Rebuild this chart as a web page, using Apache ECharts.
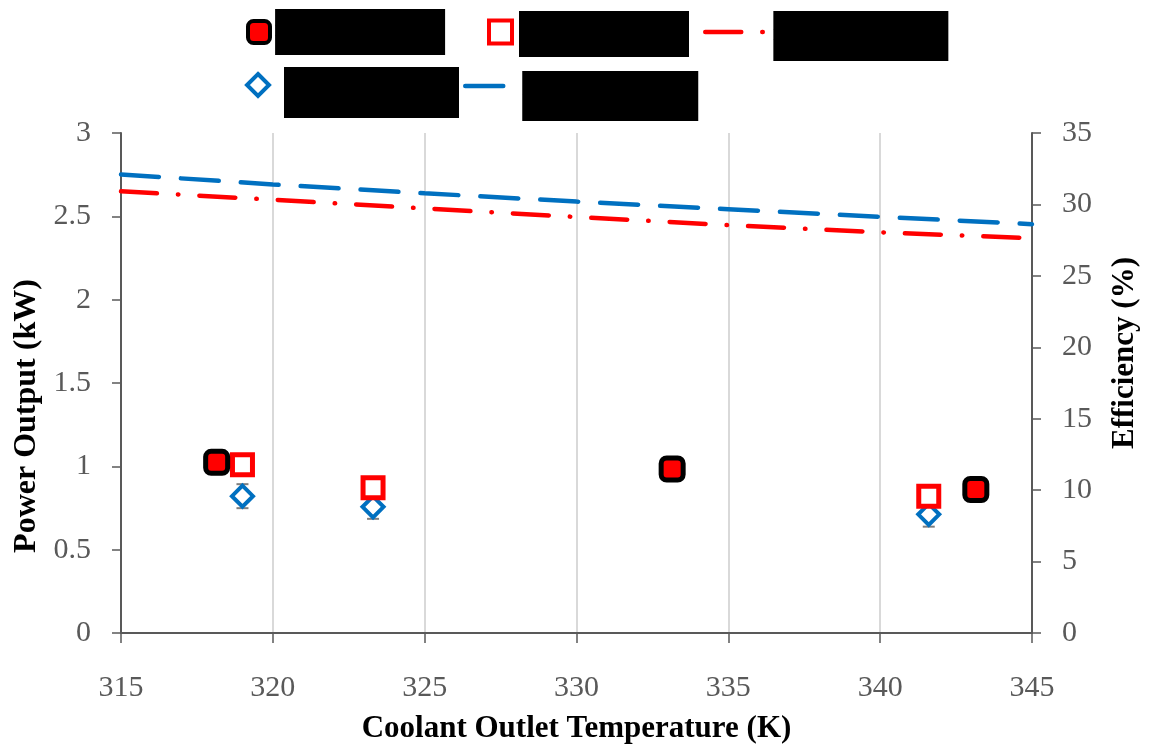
<!DOCTYPE html>
<html>
<head>
<meta charset="utf-8">
<script src="https://cdn.jsdelivr.net/npm/echarts@6/dist/echarts.min.js"></script>
<style>
html,body{margin:0;padding:0;background:#fff;}
#chart{width:1149px;height:749px;}
</style>
</head>
<body>
<div id="chart"></div>
<script>
// ---- data ----
var seriesNames = ['Measured Power A', 'Measured Power B', 'Model Efficiency', 'Measured Efficiency', 'Carnot-based Efficiency'];
var tempsA = [318.15, 333.15, 343.15];
var powerA = [1.024, 0.984, 0.861];
var tempsB = [319.0, 323.3, 341.6];
var powerB = [1.010, 0.871, 0.821];
var diamondVals = [0.821, 0.757, 0.712];
var diamondErr = [0.072, 0.072, 0.074];
var lineTemps = [315, 320, 325, 330, 335, 340, 345];
var redEff = [30.92, 30.33, 29.72, 29.12, 28.55, 28.05, 27.63];
var blueEff = [32.10, 31.40, 30.78, 30.20, 29.66, 29.13, 28.62];
var xTitle = 'Coolant Outlet Temperature (K)';
var yLeftTitle = 'Power Output (kW)';
var yRightTitle = 'Efficiency (%)';

function pairs(xs, ys){ return xs.map(function(x,i){ return [x, ys[i]]; }); }
var errData = tempsB.map(function(x,i){ return [x, diamondVals[i]-diamondErr[i], diamondVals[i]+diamondErr[i]]; });

var RED = '#ff0000', BLUE = '#0070c0', GREY = '#595959';
var SERIF = '"Liberation Serif", "DejaVu Serif", serif';
var RED_DASH = [36, 21, 0.5, 21], BLUE_DASH = [38, 22];

function legendBox(opts){
  var l = {
    data: [opts.name],
    left: opts.left, top: opts.top,
    orient: 'horizontal',
    padding: 0,
    selectedMode: false,
    itemWidth: opts.iw, itemHeight: opts.ih,
    formatter: function(n){ return '{s|\u00a0}{b|' + n + '}'; },
    textStyle: {
      color: '#000',
      fontFamily: SERIF,
      fontSize: 16,
      rich: {
        s: { width: opts.sw, height: opts.sh, fontSize: 4 },
        b: { width: opts.bw, height: opts.bh, backgroundColor: '#000', color: '#000', verticalAlign: 'bottom', align: 'left' }
      }
    }
  };
  if (opts.itemStyle) l.itemStyle = opts.itemStyle;
  if (opts.lineStyle) l.lineStyle = opts.lineStyle;
  if (opts.icon) l.icon = opts.icon;
  return l;
}

var chart = echarts.init(document.getElementById('chart'), null, {renderer: 'canvas'});
chart.setOption({
  animation: false,
  backgroundColor: '#fff',
  grid: { left: 121, right: 117, top: 133, bottom: 113, containLabel: false },
  legend: [
    legendBox({name: seriesNames[0], left: 246, top: 9,  iw: 22, ih: 22, sw: 0.1, sh: 46, bw: 170, bh: 46,
      icon: 'roundRect', itemStyle: { color: RED, borderColor: '#000', borderWidth: 4 }}),
    legendBox({name: seriesNames[1], left: 487, top: 11, iw: 23, ih: 23, sw: 2,  sh: 50, bw: 170, bh: 46,
      icon: 'rect', itemStyle: { color: '#fff', borderColor: RED, borderWidth: 4 }}),
    legendBox({name: seriesNames[2], left: 703, top: 11, iw: 63, ih: 14, sw: 0.1, sh: 58, bw: 175, bh: 50,
      itemStyle: { color: 'rgba(0,0,0,0)', borderWidth: 0, opacity: 0 },
      lineStyle: { color: RED, width: 4.5, type: RED_DASH, cap: 'round' }}),
    legendBox({name: seriesNames[3], left: 245, top: 67, iw: 22, ih: 22, sw: 10, sh: 66, bw: 175, bh: 51,
      icon: 'diamond', itemStyle: { color: '#fff', borderColor: BLUE, borderWidth: 4 }}),
    legendBox({name: seriesNames[4], left: 463, top: 71, iw: 42, ih: 14, sw: 10, sh: 70, bw: 176, bh: 50,
      itemStyle: { color: 'rgba(0,0,0,0)', borderWidth: 0, opacity: 0 },
      lineStyle: { color: BLUE, width: 4.5, type: BLUE_DASH, cap: 'round' }})
  ],
  xAxis: {
    type: 'value', min: 315, max: 345, interval: 5,
    name: xTitle, nameLocation: 'middle', nameGap: 80,
    nameTextStyle: { fontFamily: SERIF, fontWeight: 'bold', fontSize: 31, color: '#000' },
    axisLine: { show: true, lineStyle: { color: GREY, width: 2 } },
    axisTick: { show: true, length: 10, lineStyle: { color: GREY, width: 1.5 } },
    axisLabel: { margin: 40, fontFamily: SERIF, fontSize: 30, color: GREY },
    splitLine: { show: true, lineStyle: { color: '#d9d9d9', width: 2 } }
  },
  yAxis: [
    {
      type: 'value', min: 0, max: 3, interval: 0.5, position: 'left',
      name: yLeftTitle, nameLocation: 'middle', nameGap: 77, nameRotate: 90,
      nameTextStyle: { fontFamily: SERIF, fontWeight: 'bold', fontSize: 32, color: '#000', padding: [0, 66, 0, 0] },
      axisLine: { show: true, lineStyle: { color: GREY, width: 2 } },
      axisTick: { show: true, length: 9, lineStyle: { color: GREY, width: 1.5 } },
      axisLabel: { margin: 30, fontFamily: SERIF, fontSize: 30, color: GREY },
      splitLine: { show: false }
    },
    {
      type: 'value', min: 0, max: 35, interval: 5, position: 'right',
      name: yRightTitle, nameLocation: 'middle', nameGap: 77, nameRotate: 90,
      nameTextStyle: { fontFamily: SERIF, fontWeight: 'bold', fontSize: 31, color: '#000', padding: [0, 0, 0, 60] },
      axisLine: { show: true, lineStyle: { color: GREY, width: 2 } },
      axisTick: { show: true, length: 9, lineStyle: { color: GREY, width: 1.5 } },
      axisLabel: { margin: 30, fontFamily: SERIF, fontSize: 30, color: GREY },
      splitLine: { show: false }
    }
  ],
  series: [
    {
      name: seriesNames[2], type: 'line', yAxisIndex: 1,
      data: pairs(lineTemps, redEff), symbol: 'none', showSymbol: false, z: 3,
      lineStyle: { color: RED, width: 4.5, type: RED_DASH, cap: 'round' },
      itemStyle: { color: RED }
    },
    {
      name: seriesNames[4], type: 'line', yAxisIndex: 1,
      data: pairs(lineTemps, blueEff), symbol: 'none', showSymbol: false, z: 3,
      lineStyle: { color: BLUE, width: 4.5, type: BLUE_DASH, cap: 'round' },
      itemStyle: { color: BLUE }
    },
    {
      name: 'error', type: 'custom', yAxisIndex: 0, z: 2,
      data: errData,
      renderItem: function(params, api){
        var x = api.value(0);
        var lo = api.coord([x, api.value(1)]);
        var hi = api.coord([x, api.value(2)]);
        var hw = 6;
        var st = { stroke: '#7f7f7f', lineWidth: 2 };
        return { type: 'group', children: [
          { type: 'line', shape: { x1: lo[0], y1: lo[1], x2: hi[0], y2: hi[1] }, style: st },
          { type: 'line', shape: { x1: lo[0]-hw, y1: lo[1], x2: lo[0]+hw, y2: lo[1] }, style: st },
          { type: 'line', shape: { x1: hi[0]-hw, y1: hi[1], x2: hi[0]+hw, y2: hi[1] }, style: st }
        ]};
      }
    },
    {
      name: seriesNames[3], type: 'scatter', yAxisIndex: 0, z: 4,
      data: pairs(tempsB, diamondVals), symbol: 'diamond', symbolSize: 21,
      itemStyle: { color: '#fff', borderColor: BLUE, borderWidth: 4, opacity: 1 }
    },
    {
      name: seriesNames[1], type: 'scatter', yAxisIndex: 0, z: 5,
      data: pairs(tempsB, powerB), symbol: 'rect', symbolSize: 20,
      itemStyle: { color: '#fff', borderColor: RED, borderWidth: 5, opacity: 1 }
    },
    {
      name: seriesNames[0], type: 'scatter', yAxisIndex: 0, z: 6,
      data: pairs(tempsA, powerA), symbol: 'roundRect', symbolSize: 22,
      itemStyle: { color: RED, borderColor: '#000', borderWidth: 5, opacity: 1 }
    }
  ]
});
</script>
</body>
</html>
